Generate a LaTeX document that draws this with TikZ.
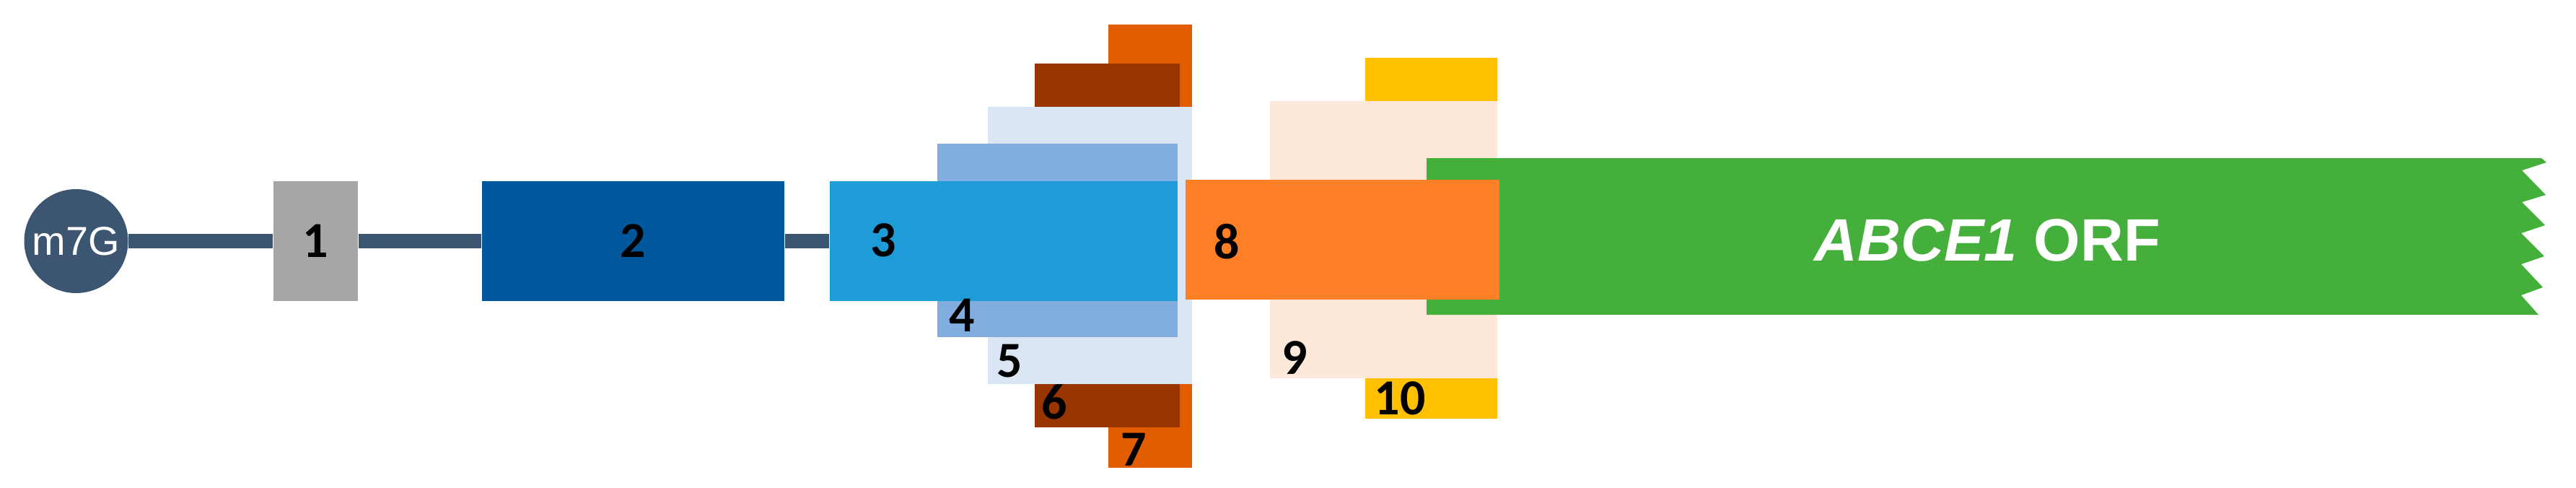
\documentclass[tikz,border=0pt]{standalone}
\usepackage{fontspec}
\setmainfont{Carlito}
\newfontfamily\arialfont{Liberation Sans}
\usepackage{xcolor}
\usepackage{tikz}

\definecolor{capblue}{HTML}{3C5570}
\definecolor{greyA}{HTML}{A6A6A6}
\definecolor{navyA}{HTML}{01579B}
\definecolor{skyA}{HTML}{1E9CD8}
\definecolor{skyB}{HTML}{82ADDF}
\definecolor{skyC}{HTML}{DAE6F4}
\definecolor{brownA}{HTML}{993500}
\definecolor{rustA}{HTML}{E25C00}
\definecolor{orangeA}{HTML}{FF7F27}
\definecolor{peachA}{HTML}{FDE8DA}
\definecolor{goldA}{HTML}{FFC000}
\definecolor{orfgreen}{HTML}{45AF3C}

\tikzset{
  region/.style={rectangle, inner sep=0pt, draw=none, minimum height=16.6mm},
  num/.style={font=\fontsize{19.9}{20}\selectfont\bfseries, text=black, inner sep=0pt},
}

\begin{document}
\begin{tikzpicture}[x=1mm,y=-1mm]
        \useasboundingbox (0,0) rectangle (357,67.5);
        % stacked regions round 3, outermost first
        \fill[rustA] (153.6,3.4) rectangle (165.2,64.8);
        \fill[brownA] (143.4,8.8) rectangle (163.5,59.2);
        \fill[skyC] (136.9,14.8) rectangle (165.2,53.2);
        \fill[skyB] (129.9,19.9) rectangle (163.2,46.7);
        % cap and leader
        \node[circle, fill=capblue, minimum size=14.4mm, inner sep=0pt, text=white,
              font=\arialfont\fontsize{15.9}{16}\selectfont] (cap) at (10.55,33.4) {m7G};
        \node[region, fill=greyA, minimum width=11.7mm, num] (b1) at (43.75,33.4) {1};
        \node[region, fill=navyA, minimum width=41.9mm, num] (b2) at (87.75,33.4) {2};
        \node[region, fill=skyA, minimum width=48.2mm] (b3) at (139.1,33.4) {};
        \draw[capblue, line width=2mm] (cap) -- (b1);
        \draw[capblue, line width=2mm] (b1) -- (b2);
        \draw[capblue, line width=2mm] (b2) -- (b3);
        % stacked regions round 8
        \fill[goldA] (189.2,8.0) rectangle (207.5,58.0);
        \fill[peachA] (176.0,14.0) rectangle (207.5,52.4);
        % ORF with torn end
        \fill[orfgreen] (197.7,21.9) -- (352.2,21.9) -- (352.9,22.5) -- (349.5,23.6)
              -- (352.8,27.0) -- (349.5,28.0) -- (352.7,31.2) -- (349.4,32.3)
              -- (352.6,35.5) -- (349.4,36.6) -- (352.4,39.8) -- (349.4,40.9)
              -- (351.8,43.6) -- (197.7,43.6) -- cycle;
        \node[region, fill=orangeA, minimum width=43.5mm] (b8) at (186.05,33.2) {};
        \node[text=white, inner sep=0pt, font=\arialfont\bfseries\fontsize{23.6}{24}\selectfont]
              (orf) at (275.4,33.3) {\textit{ABCE1} ORF};
        % labels
        \node[num] (l3) at (122.4,33.3) {3};
        \node[num] (l4) at (133.3,43.7) {4};
        \node[num] (l5) at (139.9,50.0) {5};
        \node[num] (l6) at (146.1,55.7) {6};
        \node[num] (l7) at (157.1,62.3) {7};
        \node[num] (l8) at (170.0,33.5) {8};
        \node[num] (l9) at (179.4,49.6) {9};
        \node[num] (l10) at (194.0,55.2) {10};
    \end{tikzpicture}
\end{document}
